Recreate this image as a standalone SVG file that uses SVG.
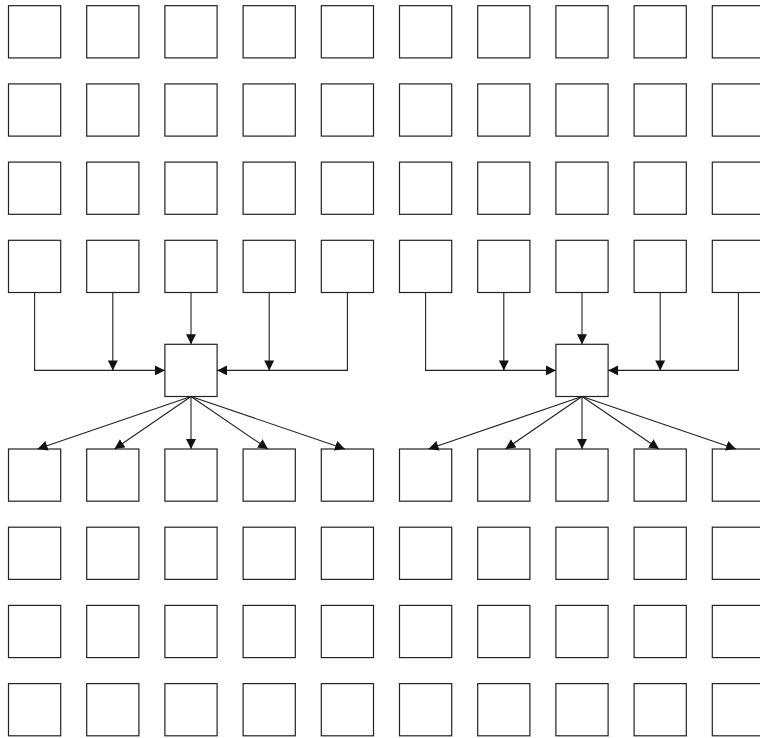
<svg xmlns="http://www.w3.org/2000/svg" width="760" height="738" viewBox="0 0 760 738">
<style>
.b{fill:#fff;stroke:#222;stroke-width:1.2}
.c{fill:none;stroke:#222;stroke-width:1.1}
</style>
<defs>
<marker id="a" markerUnits="userSpaceOnUse" markerWidth="11" markerHeight="10" refX="10" refY="5" orient="auto">
<path d="M0,0 L10,5 L0,10 z" fill="#111"/>
</marker>
<rect id="n" width="52.2" height="52.2"/>
</defs>
<rect width="760" height="738" fill="#fff"/>
<g id="top-rows">
<g id="r0">
<use href="#n" class="b" x="8.5" y="5.7"/><use href="#n" class="b" x="86.7" y="5.7"/><use href="#n" class="b" x="164.9" y="5.7"/><use href="#n" class="b" x="243.1" y="5.7"/><use href="#n" class="b" x="321.3" y="5.7"/><use href="#n" class="b" x="399.5" y="5.7"/><use href="#n" class="b" x="477.7" y="5.7"/><use href="#n" class="b" x="555.9" y="5.7"/><use href="#n" class="b" x="634.1" y="5.7"/><use href="#n" class="b" x="712.3" y="5.7"/>
</g>
<g id="r1">
<use href="#n" class="b" x="8.5" y="83.9"/><use href="#n" class="b" x="86.7" y="83.9"/><use href="#n" class="b" x="164.9" y="83.9"/><use href="#n" class="b" x="243.1" y="83.9"/><use href="#n" class="b" x="321.3" y="83.9"/><use href="#n" class="b" x="399.5" y="83.9"/><use href="#n" class="b" x="477.7" y="83.9"/><use href="#n" class="b" x="555.9" y="83.9"/><use href="#n" class="b" x="634.1" y="83.9"/><use href="#n" class="b" x="712.3" y="83.9"/>
</g>
<g id="r2">
<use href="#n" class="b" x="8.5" y="162.1"/><use href="#n" class="b" x="86.7" y="162.1"/><use href="#n" class="b" x="164.9" y="162.1"/><use href="#n" class="b" x="243.1" y="162.1"/><use href="#n" class="b" x="321.3" y="162.1"/><use href="#n" class="b" x="399.5" y="162.1"/><use href="#n" class="b" x="477.7" y="162.1"/><use href="#n" class="b" x="555.9" y="162.1"/><use href="#n" class="b" x="634.1" y="162.1"/><use href="#n" class="b" x="712.3" y="162.1"/>
</g>
<g id="r3">
<use href="#n" class="b" x="8.5" y="240.3"/><use href="#n" class="b" x="86.7" y="240.3"/><use href="#n" class="b" x="164.9" y="240.3"/><use href="#n" class="b" x="243.1" y="240.3"/><use href="#n" class="b" x="321.3" y="240.3"/><use href="#n" class="b" x="399.5" y="240.3"/><use href="#n" class="b" x="477.7" y="240.3"/><use href="#n" class="b" x="555.9" y="240.3"/><use href="#n" class="b" x="634.1" y="240.3"/><use href="#n" class="b" x="712.3" y="240.3"/>
</g>
</g>
<g id="hub-left"><use href="#n" class="b" x="164.9" y="344.3"/></g>
<g id="hub-right"><use href="#n" class="b" x="555.9" y="344.3"/></g>
<g id="bottom-rows">
<g id="r4">
<use href="#n" class="b" x="8.5" y="449"/><use href="#n" class="b" x="86.7" y="449"/><use href="#n" class="b" x="164.9" y="449"/><use href="#n" class="b" x="243.1" y="449"/><use href="#n" class="b" x="321.3" y="449"/><use href="#n" class="b" x="399.5" y="449"/><use href="#n" class="b" x="477.7" y="449"/><use href="#n" class="b" x="555.9" y="449"/><use href="#n" class="b" x="634.1" y="449"/><use href="#n" class="b" x="712.3" y="449"/>
</g>
<g id="r5">
<use href="#n" class="b" x="8.5" y="527.2"/><use href="#n" class="b" x="86.7" y="527.2"/><use href="#n" class="b" x="164.9" y="527.2"/><use href="#n" class="b" x="243.1" y="527.2"/><use href="#n" class="b" x="321.3" y="527.2"/><use href="#n" class="b" x="399.5" y="527.2"/><use href="#n" class="b" x="477.7" y="527.2"/><use href="#n" class="b" x="555.9" y="527.2"/><use href="#n" class="b" x="634.1" y="527.2"/><use href="#n" class="b" x="712.3" y="527.2"/>
</g>
<g id="r6">
<use href="#n" class="b" x="8.5" y="605.4"/><use href="#n" class="b" x="86.7" y="605.4"/><use href="#n" class="b" x="164.9" y="605.4"/><use href="#n" class="b" x="243.1" y="605.4"/><use href="#n" class="b" x="321.3" y="605.4"/><use href="#n" class="b" x="399.5" y="605.4"/><use href="#n" class="b" x="477.7" y="605.4"/><use href="#n" class="b" x="555.9" y="605.4"/><use href="#n" class="b" x="634.1" y="605.4"/><use href="#n" class="b" x="712.3" y="605.4"/>
</g>
<g id="r7">
<use href="#n" class="b" x="8.5" y="683.6"/><use href="#n" class="b" x="86.7" y="683.6"/><use href="#n" class="b" x="164.9" y="683.6"/><use href="#n" class="b" x="243.1" y="683.6"/><use href="#n" class="b" x="321.3" y="683.6"/><use href="#n" class="b" x="399.5" y="683.6"/><use href="#n" class="b" x="477.7" y="683.6"/><use href="#n" class="b" x="555.9" y="683.6"/><use href="#n" class="b" x="634.1" y="683.6"/><use href="#n" class="b" x="712.3" y="683.6"/>
</g>
</g>
<g id="connectors" class="c">
<path class="c" d="M34.6,292.5 V370.4 H164.9" marker-end="url(#a)"/>
<path class="c" d="M112.8,292.5 V370.4" marker-end="url(#a)"/>
<path class="c" d="M191,292.5 V344.3" marker-end="url(#a)"/>
<path class="c" d="M269.2,292.5 V370.4" marker-end="url(#a)"/>
<path class="c" d="M347.4,292.5 V370.4 H217.1" marker-end="url(#a)"/>
<path class="c" d="M191,396.5 L37.5,449" marker-end="url(#a)"/>
<path class="c" d="M191,396.5 L114.5,449" marker-end="url(#a)"/>
<path class="c" d="M191,396.5 V449" marker-end="url(#a)"/>
<path class="c" d="M191,396.5 L268,449" marker-end="url(#a)"/>
<path class="c" d="M191,396.5 L345,449" marker-end="url(#a)"/>
<path class="c" d="M425.6,292.5 V370.4 H555.9" marker-end="url(#a)"/>
<path class="c" d="M503.8,292.5 V370.4" marker-end="url(#a)"/>
<path class="c" d="M582,292.5 V344.3" marker-end="url(#a)"/>
<path class="c" d="M660.2,292.5 V370.4" marker-end="url(#a)"/>
<path class="c" d="M738.4,292.5 V370.4 H608.1" marker-end="url(#a)"/>
<path class="c" d="M582,396.5 L428.5,449" marker-end="url(#a)"/>
<path class="c" d="M582,396.5 L505.5,449" marker-end="url(#a)"/>
<path class="c" d="M582,396.5 V449" marker-end="url(#a)"/>
<path class="c" d="M582,396.5 L659,449" marker-end="url(#a)"/>
<path class="c" d="M582,396.5 L736,449" marker-end="url(#a)"/>
</g>
</svg>
